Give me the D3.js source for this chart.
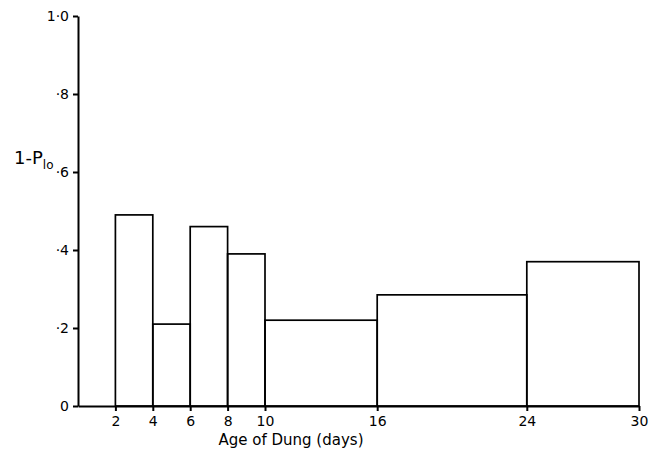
<!DOCTYPE html>
<meta charset="utf-8">
<style>
body { margin: 0; background: #fff; }
text { font-family: "DejaVu Sans", sans-serif; fill: #000; }
.axis path, .axis line { stroke: #000; stroke-width: 2px; }
.axis text { font-size: 14px; }
.bar { fill: none; stroke: #000; stroke-width: 1.7px; }
</style>
<svg width="664" height="467"></svg>
<script src="https://d3js.org/d3.v7.min.js"></script>
<script>
// age classes (days) and 1-P values
var binStart = [2, 4, 6, 8, 10, 16, 24];
var binEnd   = [4, 6, 8, 10, 16, 24, 30];
var values   = [0.49, 0.21, 0.46, 0.39, 0.22, 0.285, 0.37];
var xTicks = [2, 4, 6, 8, 10, 16, 24, 30];
var yTicks = [0, 0.2, 0.4, 0.6, 0.8, 1.0];
var yTickLabels = ["0", "·2", "·4", "·6", "·8", "1·0"];

var svg = d3.select("svg");
var x = d3.scaleLinear().domain([0, 30]).range([78, 639]),
    y = d3.scaleLinear().domain([0, 1]).range([406, 16]);

var bars = binStart.map(function(s, i) {
  return {x0: s, x1: binEnd[i], v: values[i]};
});

svg.selectAll(".bar")
    .data(bars)
  .enter().append("rect")
    .attr("class", "bar")
    .attr("x", function(d) { return x(d.x0); })
    .attr("y", function(d) { return y(d.v); })
    .attr("width", function(d) { return x(d.x1) - x(d.x0); })
    .attr("height", function(d) { return y(0) - y(d.v); });

svg.append("g")
    .attr("class", "axis")
    .attr("transform", "translate(0," + y(0) + ")")
    .call(d3.axisBottom(x).tickValues(xTicks).tickSize(5).tickSizeOuter(0).tickPadding(5)
      .tickFormat(function(d) { return d; }));

svg.append("g")
    .attr("class", "axis")
    .attr("transform", "translate(" + x(0) + ",0)")
    .call(d3.axisLeft(y).tickValues(yTicks).tickSize(5).tickSizeOuter(0).tickPadding(4)
      .tickFormat(function(d, i) { return yTickLabels[i]; }));

svg.append("text")
    .attr("x", 291)
    .attr("y", 445)
    .attr("text-anchor", "middle")
    .style("font-size", "15px")
    .text("Age of Dung (days)");

var yl = svg.append("text")
    .attr("x", 14)
    .attr("y", 164)
    .style("font-size", "18px");
yl.append("tspan").text("1-P");
yl.append("tspan").attr("dy", 5).style("font-size", "12px").text("lo");
</script>
